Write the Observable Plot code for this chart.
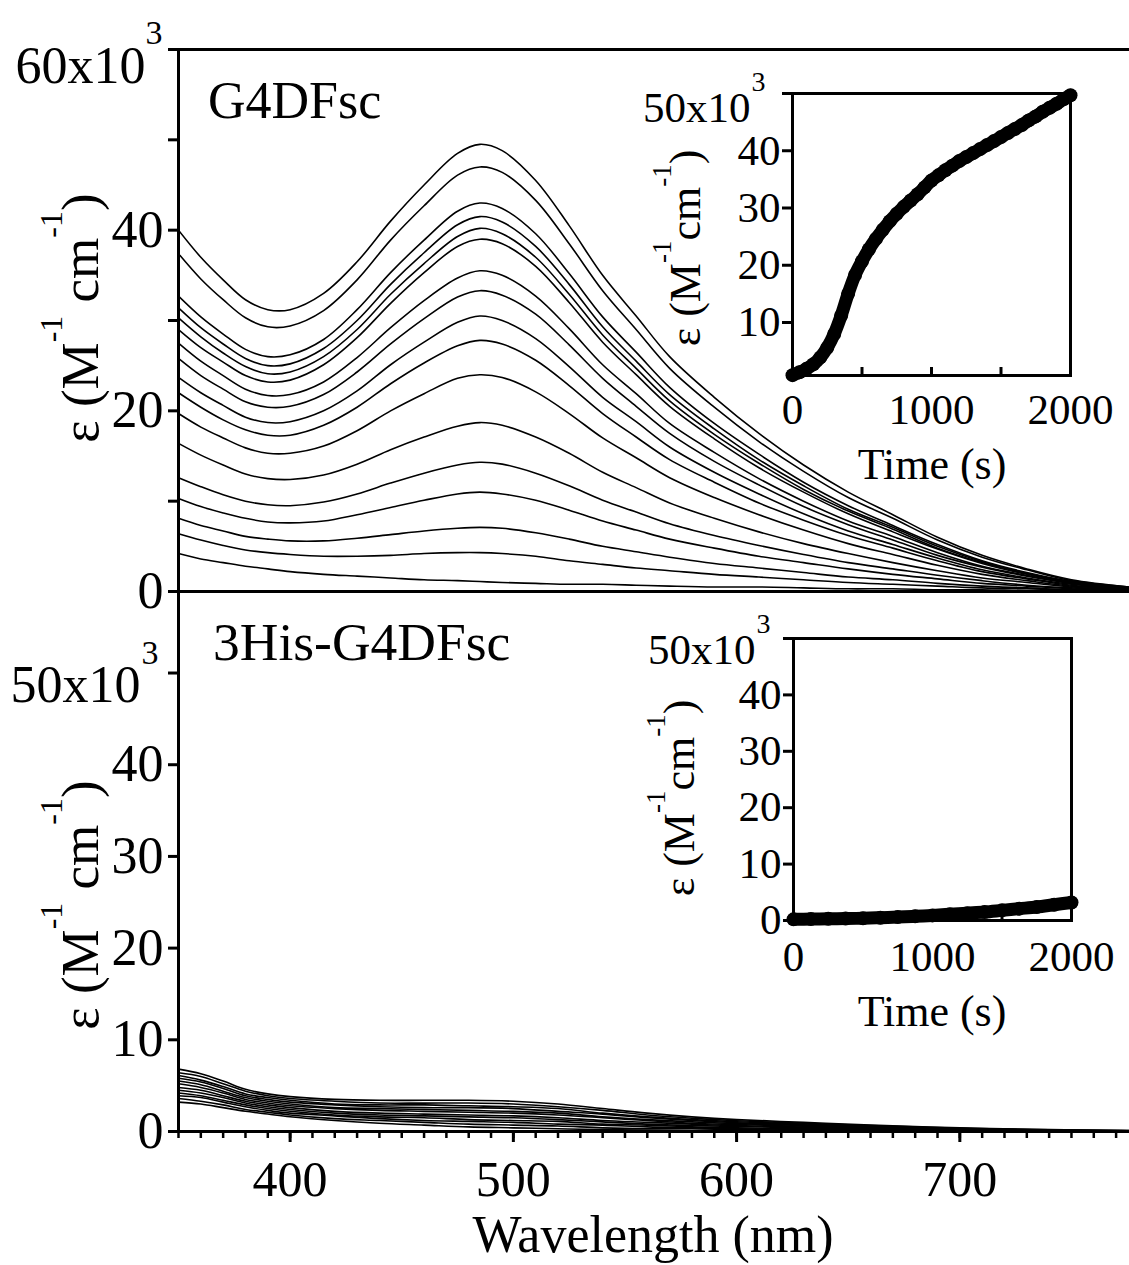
<!DOCTYPE html>
<html><head><meta charset="utf-8">
<script src="https://cdn.jsdelivr.net/npm/d3@7"></script>
<script src="https://cdn.jsdelivr.net/npm/@observablehq/plot@0.6"></script>
<style>
body{margin:0;background:#fff;}
#chart{position:relative;width:1129px;height:1265px;overflow:hidden;background:#fff;font-family:"Liberation Serif","Times New Roman",serif;color:#000;}
#chart svg{position:absolute;left:0;top:0;overflow:visible;}
.lbl{position:absolute;white-space:nowrap;line-height:1;}
.rot{position:absolute;white-space:nowrap;line-height:1;transform:translate(-50%,-50%) rotate(-90deg);}
.sup{position:relative;}
</style></head>
<body><div id="chart"></div>
<script>
// ---------- DATA ----------
const g4Wavelength = [350,360,370,380,390,400,415,430,445,460,475,485,495,510,525,540,555,570,590,610,630,650,670,690,710,730,750,776];
const g4Spectra = [
 [40.0,37.0,34.5,32.3,31.2,31.2,33.0,36.5,41.0,45.0,48.5,49.5,48.8,45.5,40.5,35.0,30.5,26.0,21.5,17.5,14.0,11.0,8.5,6.0,4.0,2.5,1.3,0.5],
 [37.4,34.6,32.3,30.3,29.3,29.4,31.1,34.5,38.9,42.7,46.1,47.0,46.4,43.3,38.5,33.3,29.0,24.7,20.4,16.6,13.3,10.4,8.1,5.7,3.8,2.4,1.2,0.5],
 [32.7,30.4,28.5,26.8,26.0,26.2,27.9,31.2,35.3,38.9,42.1,43.0,42.4,39.6,35.2,30.4,26.5,22.6,18.6,15.2,12.1,9.5,7.3,5.2,3.4,2.1,1.1,0.4],
 [31.4,29.2,27.4,25.8,25.0,25.2,26.9,30.0,34.0,37.5,40.6,41.5,40.9,38.2,34.0,29.3,25.5,21.8,18.0,14.6,11.7,9.1,7.1,5.0,3.3,2.0,1.1,0.4],
 [30.3,28.2,26.4,24.9,24.1,24.3,26.0,29.0,32.9,36.3,39.3,40.2,39.6,37.0,32.9,28.4,24.7,21.1,17.4,14.2,11.3,8.9,6.9,4.8,3.2,2.0,1.0,0.4],
 [29.0,27.0,25.4,23.9,23.2,23.4,25.1,28.1,31.9,35.3,38.2,39.0,38.5,36.0,32.0,27.6,24.0,20.5,16.9,13.7,11.0,8.6,6.6,4.7,3.1,1.9,1.0,0.4],
 [27.5,25.5,23.9,22.4,21.7,21.8,23.2,25.9,29.2,32.2,34.7,35.5,35.0,32.7,29.1,25.1,21.9,18.6,15.4,12.5,10.0,7.8,6.1,4.3,2.8,1.8,0.9,0.4],
 [25.8,23.9,22.4,21.0,20.4,20.5,21.8,24.3,27.4,30.2,32.6,33.3,32.8,30.7,27.3,23.6,20.5,17.5,14.4,11.8,9.4,7.4,5.7,4.0,2.7,1.7,0.9,0.3],
 [23.7,22.0,20.6,19.3,18.7,18.8,20.0,22.2,25.1,27.6,29.8,30.5,30.0,28.0,24.9,21.5,18.8,16.0,13.2,10.8,8.6,6.7,5.2,3.7,2.4,1.5,0.8,0.3],
 [22.0,20.4,19.0,17.9,17.3,17.3,18.4,20.4,23.0,25.3,27.2,27.8,27.4,25.6,22.8,19.7,17.1,14.6,12.1,9.8,7.9,6.2,4.8,3.4,2.2,1.4,0.7,0.3],
 [19.7,18.2,17.0,15.9,15.3,15.3,16.1,17.8,20.0,21.9,23.6,24.0,23.7,22.1,19.7,17.0,14.8,12.6,10.4,8.5,6.8,5.3,4.1,2.9,1.9,1.2,0.6,0.3],
 [16.4,15.1,14.0,13.0,12.5,12.4,12.9,14.1,15.7,17.1,18.3,18.7,18.4,17.1,15.3,13.2,11.5,9.8,8.1,6.6,5.3,4.2,3.2,2.3,1.5,1.0,0.5,0.2],
 [12.6,11.6,10.7,10.0,9.6,9.5,9.9,10.8,12.0,13.1,14.0,14.3,14.1,13.1,11.7,10.1,8.8,7.5,6.2,5.1,4.1,3.2,2.5,1.8,1.2,0.7,0.4,0.2],
 [10.3,9.4,8.7,8.1,7.7,7.6,7.8,8.5,9.3,10.1,10.8,11.0,10.8,10.1,9.0,7.8,6.8,5.8,4.8,3.9,3.2,2.5,1.9,1.4,0.9,0.6,0.3,0.1],
 [8.1,7.3,6.7,6.1,5.8,5.6,5.6,5.9,6.3,6.7,7.0,7.1,7.0,6.5,5.8,5.0,4.4,3.8,3.1,2.6,2.1,1.6,1.3,0.9,0.6,0.4,0.2,0.1],
 [6.4,5.7,5.1,4.6,4.3,4.1,3.9,3.9,4.0,4.2,4.3,4.3,4.2,3.9,3.4,3.0,2.6,2.3,1.9,1.6,1.3,1.0,0.8,0.6,0.4,0.3,0.2,0.1],
 [4.2,3.6,3.2,2.8,2.5,2.2,1.9,1.7,1.5,1.3,1.2,1.1,1.0,0.9,0.8,0.8,0.7,0.6,0.5,0.5,0.4,0.3,0.3,0.2,0.2,0.1,0.1,0.0]
];
const hisWavelength = [350,360,370,380,390,400,420,440,460,480,500,520,540,560,580,600,630,660,700,740,776];
const hisSpectra = [
 [3.2,3.0,2.6,2.2,1.9,1.6,1.2,0.9,0.7,0.5,0.4,0.3,0.2,0.15,0.1,0.1,0.05,0.05,0,0,0],
 [3.6,3.3,2.9,2.4,2.1,1.8,1.4,1.2,1.0,0.8,0.7,0.6,0.4,0.3,0.3,0.2,0.15,0.1,0.05,0,0],
 [3.9,3.7,3.2,2.7,2.3,2.0,1.7,1.4,1.2,1.1,1.0,0.8,0.7,0.5,0.4,0.3,0.25,0.2,0.1,0.05,0],
 [4.2,3.9,3.4,2.9,2.5,2.2,1.8,1.6,1.5,1.3,1.2,1.1,0.8,0.7,0.5,0.4,0.3,0.2,0.1,0.06,0.03],
 [4.5,4.2,3.7,3.1,2.7,2.4,2.0,1.8,1.7,1.6,1.5,1.3,1.05,0.8,0.65,0.55,0.4,0.3,0.15,0.07,0.04],
 [4.8,4.5,3.9,3.3,2.9,2.6,2.2,2.0,1.9,1.8,1.7,1.5,1.2,1.0,0.8,0.64,0.48,0.34,0.18,0.09,0.05],
 [5.2,4.8,4.2,3.5,3.1,2.8,2.5,2.3,2.2,2.1,2.0,1.8,1.5,1.2,0.9,0.76,0.57,0.41,0.22,0.11,0.06],
 [5.5,5.1,4.4,3.7,3.3,3.0,2.6,2.5,2.4,2.3,2.2,2.0,1.6,1.3,1.05,0.86,0.65,0.46,0.25,0.13,0.06],
 [5.8,5.4,4.7,3.9,3.5,3.2,2.9,2.7,2.6,2.6,2.5,2.2,1.9,1.5,1.2,0.96,0.73,0.52,0.29,0.14,0.07],
 [6.1,5.6,4.9,4.1,3.7,3.4,3.0,2.9,2.9,2.8,2.7,2.5,2.0,1.6,1.3,1.06,0.81,0.57,0.32,0.16,0.08],
 [6.4,6.0,5.2,4.4,3.9,3.6,3.3,3.1,3.1,3.1,3.0,2.7,2.3,1.8,1.45,1.18,0.9,0.64,0.36,0.18,0.09],
 [6.8,6.3,5.5,4.6,4.1,3.8,3.5,3.4,3.4,3.4,3.3,3.0,2.5,2.0,1.6,1.3,1.0,0.7,0.4,0.2,0.1]
];
const g4Time = [0,50,100,150,200,250,300,350,400,450,500,550,600,650,700,750,800,850,900,950,1000,1050,1100,1150,1200,1250,1300,1350,1400,1450,1500,1550,1600,1650,1700,1750,1800,1850,1900,1950,2000];
const g4Kinetic = [0.8,1.3,1.9,2.7,3.9,5.6,8.0,11.2,15.0,18.3,20.7,22.8,24.6,26.2,27.7,29.0,30.2,31.3,32.4,33.6,34.8,35.7,36.6,37.4,38.2,38.9,39.6,40.3,41.0,41.7,42.4,43.1,43.8,44.5,45.3,46.0,46.8,47.5,48.2,49.0,49.7];
const hisTime = [0,125,250,375,500,625,750,875,1000,1125,1250,1375,1500,1625,1750,1875,2000];
const hisKinetic = [0.2,0.25,0.3,0.35,0.4,0.5,0.6,0.75,0.9,1.1,1.3,1.5,1.8,2.1,2.4,2.8,3.2];

const topYTicks = [0,10,20,30,40,50,60];
const topYLabels = [0,20,40];
const botYTicks = [0,10,20,30,40,50];
const xMajorTicks = [400,500,600,700];
const xMinorTicks = d3.range(350, 780, 10);
const insetYTicks = [10,20,30,40,50];
const insetYTicks0 = [0,10,20,30,40,50];
const insetXLabels = [0,1000,2000];
const insetXTicks = [500,1000,1500];

// ---------- HELPERS ----------
const FONT = '"Liberation Serif","Times New Roman",serif';
const W = 1129;
const baseStyle = {background: "none", overflow: "visible", fontFamily: FONT, fontSize: "50px", color: "black"};
function rows(xs, series) {
  const out = [];
  series.forEach((ys, k) => ys.forEach((v, i) => out.push({x: xs[i], y: v, k})));
  return out;
}
const g4Rows = rows(g4Wavelength, g4Spectra);
const hisRows = rows(hisWavelength, hisSpectra);
const g4Kin = g4Time.map((t, i) => ({t, v: g4Kinetic[i]}));
const hisKin = hisTime.map((t, i) => ({t, v: hisKinetic[i]}));
const chart = document.getElementById("chart");
const plain = d => String(d);

// ---------- TOP MAIN PANEL ----------
const topMain = Plot.plot({
  width: W, height: 600,
  marginLeft: 178, marginRight: 0, marginTop: 49, marginBottom: 9,
  style: baseStyle,
  x: {domain: [350, 776], axis: null, label: null},
  y: {domain: [0, 60], axis: null, label: null},
  marks: [
    Plot.line(g4Rows, {x: "x", y: "y", z: "k", stroke: "black", strokeWidth: 1.6, curve: "catmull-rom", clip: true}),
    Plot.axisY({ticks: topYTicks, tickSize: 10, tickPadding: 5, strokeWidth: 3, fontSize: 52, label: null,
      tickFormat: d => topYLabels.includes(d) ? String(d) : ""}),
    Plot.ruleY([0, 60], {strokeWidth: 3}),
    Plot.ruleX([350], {strokeWidth: 3}),
    Plot.text([{x: 350, y: 60, t: "60x10"}], {x: "x", y: "y", text: "t", dx: -33, dy: 17, textAnchor: "end", fontSize: 52}),
    Plot.text([{x: 350, y: 60, t: "3"}], {x: "x", y: "y", text: "t", dx: -33, dy: -16, textAnchor: "start", fontSize: 34})
  ]
});
chart.appendChild(topMain);

// ---------- BOTTOM MAIN PANEL ----------
const botMain = Plot.plot({
  width: W, height: 1265,
  marginLeft: 178, marginRight: 0, marginTop: 590, marginBottom: 134,
  style: baseStyle,
  x: {domain: [350, 776], axis: null, label: null},
  y: {domain: [0, 59], axis: null, label: null},
  marks: [
    Plot.line(hisRows, {x: "x", y: "y", z: "k", stroke: "black", strokeWidth: 1.6, curve: "catmull-rom", clip: true}),
    Plot.axisY({ticks: botYTicks, tickSize: 10, tickPadding: 5, strokeWidth: 3, fontSize: 52, label: null,
      tickFormat: d => d === 50 ? "" : String(d)}),
    Plot.axisX({ticks: xMinorTicks, tickSize: 7, strokeWidth: 2.5, label: null, tickFormat: () => ""}),
    Plot.axisX({ticks: xMajorTicks, tickSize: 11, tickPadding: 18, strokeWidth: 3, fontSize: 50, label: null, tickFormat: plain}),
    Plot.ruleY([0], {strokeWidth: 3}),
    Plot.ruleX([350], {strokeWidth: 3}),
    Plot.text([{x: 350, y: 50, t: "50x10"}], {x: "x", y: "y", text: "t", dx: -38, dy: 12, textAnchor: "end", fontSize: 52}),
    Plot.text([{x: 350, y: 50, t: "3"}], {x: "x", y: "y", text: "t", dx: -37, dy: -20, textAnchor: "start", fontSize: 34})
  ]
});
chart.appendChild(botMain);

// ---------- TOP INSET ----------
const topInset = Plot.plot({
  width: W, height: 600,
  marginLeft: 792, marginRight: 59, marginTop: 93, marginBottom: 225,
  style: baseStyle,
  x: {domain: [0, 2000], axis: null, label: null},
  y: {domain: [0.74, 50], axis: null, label: null},
  marks: [
    Plot.frame({strokeWidth: 3}),
    Plot.axisY({ticks: insetYTicks, tickSize: 10, tickPadding: 2, strokeWidth: 3, fontSize: 43, label: null,
      tickFormat: d => d === 50 ? "" : String(d)}),
    Plot.axisX({ticks: insetXTicks, tickSize: -8, strokeWidth: 3, label: null, tickFormat: () => ""}),
    Plot.axisX({ticks: insetXLabels, tickSize: 0, tickPadding: 18, fontSize: 43, label: null, tickFormat: plain}),
    Plot.line(g4Kin, {x: "t", y: "v", stroke: "black", strokeWidth: 13, strokeLinecap: "round", curve: "catmull-rom"}),
    Plot.dot(g4Kin, {x: "t", y: "v", r: 7, fill: "black"}),
    Plot.text([{x: 0, y: 50, t: "50x10"}], {x: "x", y: "y", text: "t", dx: -42, dy: 15, textAnchor: "end", fontSize: 43}),
    Plot.text([{x: 0, y: 50, t: "3"}], {x: "x", y: "y", text: "t", dx: -41, dy: -11, textAnchor: "start", fontSize: 28})
  ]
});
chart.appendChild(topInset);

// ---------- BOTTOM INSET ----------
const botInset = Plot.plot({
  width: W, height: 1265,
  marginLeft: 793, marginRight: 58, marginTop: 638, marginBottom: 345,
  style: baseStyle,
  x: {domain: [0, 2000], axis: null, label: null},
  y: {domain: [0, 50], axis: null, label: null},
  marks: [
    Plot.frame({strokeWidth: 3}),
    Plot.axisY({ticks: insetYTicks0, tickSize: 10, tickPadding: 2, strokeWidth: 3, fontSize: 43, label: null,
      tickFormat: d => d === 50 ? "" : String(d)}),
    Plot.axisX({ticks: insetXTicks, tickSize: -8, strokeWidth: 3, label: null, tickFormat: () => ""}),
    Plot.axisX({ticks: insetXLabels, tickSize: 0, tickPadding: 20, fontSize: 43, label: null, tickFormat: plain}),
    Plot.line(hisKin, {x: "t", y: "v", stroke: "black", strokeWidth: 13, strokeLinecap: "round", curve: "catmull-rom"}),
    Plot.dot(hisKin, {x: "t", y: "v", r: 7, fill: "black"}),
    Plot.text([{x: 0, y: 50, t: "50x10"}], {x: "x", y: "y", text: "t", dx: -38, dy: 12, textAnchor: "end", fontSize: 43}),
    Plot.text([{x: 0, y: 50, t: "3"}], {x: "x", y: "y", text: "t", dx: -37, dy: -14, textAnchor: "start", fontSize: 28})
  ]
});
chart.appendChild(botInset);

// ---------- TEXT LABELS ----------
function addLabel(html, cls, css) {
  const d = document.createElement("div");
  d.className = cls;
  d.innerHTML = html;
  Object.assign(d.style, css);
  chart.appendChild(d);
}
const supMain = '<span class="sup" style="font-size:32px;top:-36px">-1</span>';
const supInset = '<span class="sup" style="font-size:27px;top:-29px">-1</span>';
addLabel("ε (M" + supMain + " cm" + supMain + ")", "rot", {left: "80px", top: "318px", fontSize: "53px"});
addLabel("ε (M" + supMain + " cm" + supMain + ")", "rot", {left: "80px", top: "905px", fontSize: "53px"});
addLabel("ε (M" + supInset + "cm" + supInset + ")", "rot", {left: "686px", top: "248px", fontSize: "44px"});
addLabel("ε (M" + supInset + "cm" + supInset + ")", "rot", {left: "680px", top: "798px", fontSize: "44px"});
addLabel("G4DFsc", "lbl", {left: "208px", top: "75px", fontSize: "52px"});
addLabel("3His-G4DFsc", "lbl", {left: "213px", top: "616px", fontSize: "53.5px"});
addLabel("Time (s)", "lbl", {left: "932px", top: "443px", fontSize: "44px", transform: "translateX(-50%)"});
addLabel("Time (s)", "lbl", {left: "932px", top: "990px", fontSize: "44px", transform: "translateX(-50%)"});
addLabel("Wavelength (nm)", "lbl", {left: "653px", top: "1209px", fontSize: "52px", transform: "translateX(-50%)"});
</script>
</body></html>
